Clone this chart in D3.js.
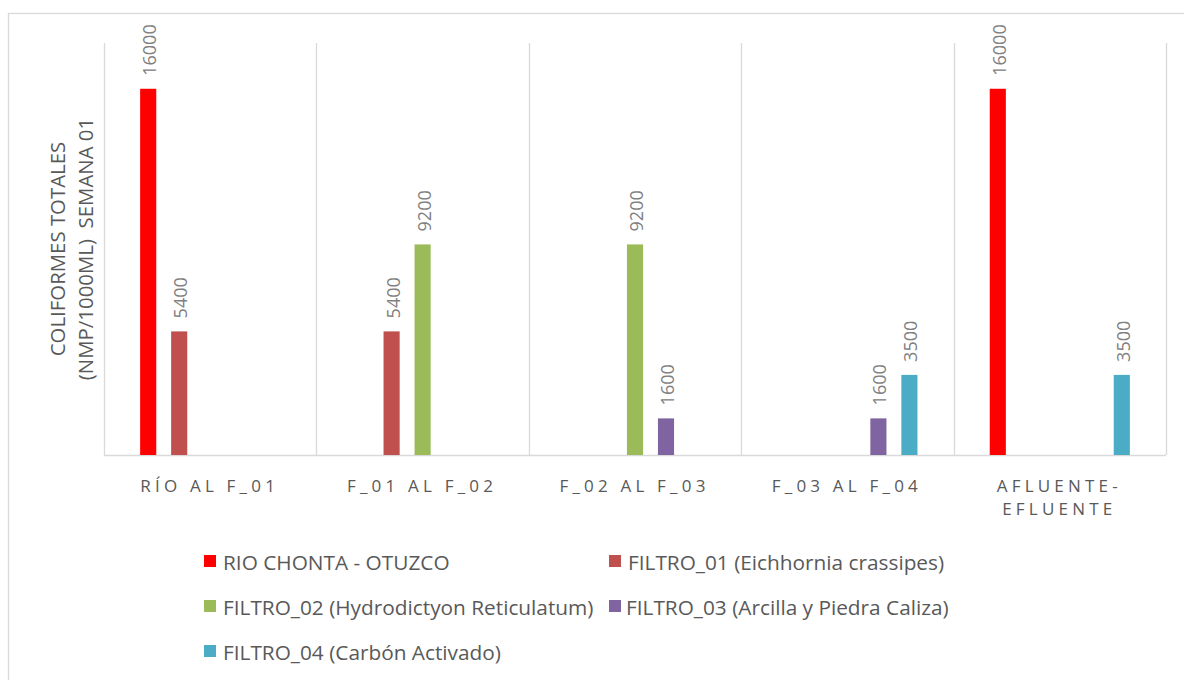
<html>
<head>
<meta charset="utf-8">
<script src="https://d3js.org/d3.v7.min.js"></script>
<style>
  body { margin: 0; background: #fff; }
  text { font-family: "Open Sans", Lato, sans-serif; }
</style>
</head>
<body>
<svg width=1184 height=680></svg>
<script>
var categories = ["RÍO AL F_01", "F_01 AL F_02", "F_02 AL F_03", "F_03 AL F_04", "AFLUENTE-|EFLUENTE"];
var seriesNames = ["RIO CHONTA - OTUZCO", "FILTRO_01 (Eichhornia crassipes)", "FILTRO_02 (Hydrodictyon Reticulatum)", "FILTRO_03 (Arcilla y Piedra Caliza)", "FILTRO_04 (Carbón Activado)"];
var seriesColors = ["#ff0000", "#c0504d", "#9bbb59", "#8064a2", "#4bacc6"];
var rioChonta = [16000, null, null, null, 16000];
var filtro01 = [5400, 5400, null, null, null];
var filtro02 = [null, 9200, 9200, null, null];
var filtro03 = [null, null, 1600, 1600, null];
var filtro04 = [null, null, null, 3500, 3500];
var allSeries = [rioChonta, filtro01, filtro02, filtro03, filtro04];

var svg = d3.select("svg");
var plotLeft = 104, plotRight = 1166, plotTop = 43, plotBottom = 455;

// outer frame
svg.append("rect").attr("x", 8.5).attr("y", 13.5).attr("width", 1200).attr("height", 700)
  .attr("fill", "none").attr("stroke", "#d9d9d9").attr("stroke-width", 1.3);

var x0 = d3.scaleBand().domain(d3.range(categories.length)).range([plotLeft, plotRight]);
var x1 = d3.scaleBand().domain(d3.range(seriesNames.length)).range([0, 155]).paddingInner(0.48).paddingOuter(0.24);
var y = d3.scaleLinear().domain([0, 18000]).range([plotBottom, plotTop]);

// vertical category separators
svg.append("g").selectAll("line")
  .data(d3.range(categories.length + 1))
  .enter().append("line")
  .attr("x1", function(d) { return Math.round(plotLeft + d * x0.step()) + 0.5; })
  .attr("x2", function(d) { return Math.round(plotLeft + d * x0.step()) + 0.5; })
  .attr("y1", plotTop).attr("y2", plotBottom)
  .attr("stroke", "#d9d9d9").attr("stroke-width", 1.3);

svg.append("line").attr("x1", plotLeft).attr("x2", plotRight).attr("y1", plotBottom + 0.5).attr("y2", plotBottom + 0.5)
  .attr("stroke", "#d9d9d9").attr("stroke-width", 1.5);

var bars = [];
allSeries.forEach(function(vals, s) {
  vals.forEach(function(v, c) {
    if (v != null) bars.push({s: s, c: c, v: v});
  });
});

var off = (x0.bandwidth() - 155) / 2;
var g = svg.append("g");
g.selectAll("rect").data(bars).enter().append("rect")
  .attr("x", function(d) { return x0(d.c) + off + x1(d.s); })
  .attr("width", x1.bandwidth())
  .attr("y", function(d) { return y(d.v); })
  .attr("height", function(d) { return plotBottom - y(d.v); })
  .attr("fill", function(d) { return seriesColors[d.s]; });

g.selectAll("text").data(bars).enter().append("text")
  .attr("transform", function(d) {
    var cx = x0(d.c) + off + x1(d.s) + x1.bandwidth() / 2 + 8;
    return "translate(" + cx + "," + (y(d.v) - 13) + ") rotate(-90)";
  })
  .attr("font-size", 18).attr("fill", "#808080")
  .text(function(d) { return d.v; });

// x category labels
var xl = svg.append("g");
categories.forEach(function(c, i) {
  var parts = c.split("|");
  parts.forEach(function(p, j) {
    xl.append("text")
      .attr("x", x0(i) + x0.bandwidth() / 2 - 0.5)
      .attr("y", 492 + j * 23)
      .attr("text-anchor", "middle")
      .attr("font-size", 17).attr("letter-spacing", 4.2)
      .attr("fill", "#595959")
      .text(p);
  });
});

// y axis title
var yt = svg.append("text").attr("transform", "translate(0," + ((plotTop + plotBottom) / 2) + ") rotate(-90)")
  .attr("text-anchor", "middle").attr("font-size", 20.4).attr("fill", "#595959");
yt.append("tspan").attr("x", 0).attr("y", 65).text("COLIFORMES TOTALES");
yt.append("tspan").attr("x", 0).attr("y", 93).attr("xml:space", "preserve").text("(NMP/1000ML)  SEMANA 01");

// legend
var legendPos = [[204, 561], [609, 561], [204, 606], [609, 606], [204, 651]];
var lg = svg.append("g");
seriesNames.forEach(function(n, i) {
  var p = legendPos[i];
  lg.append("rect").attr("x", p[0]).attr("y", p[1] - 6).attr("width", 12).attr("height", 12).attr("fill", seriesColors[i]);
  lg.append("text").attr("x", p[0] + (i == 3 ? 17 : 19)).attr("y", p[1] + 8.5)
    .attr("font-size", 20.8).attr("fill", "#595959").text(n);
});
</script>
</body>
</html>
